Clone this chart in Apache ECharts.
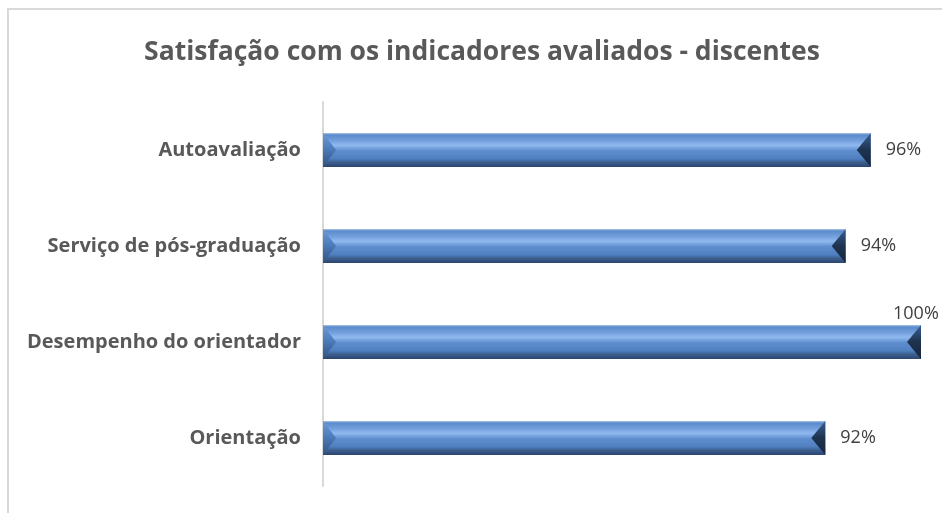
<!DOCTYPE html>
<html lang="pt">

<head>
    <meta charset="UTF-8" />
    <title>Satisfação - discentes</title>
    <script src="https://cdn.jsdelivr.net/npm/echarts@6.0.0/dist/echarts.min.js"></script>
    <style>
        html, body { margin: 0; padding: 0; background: #fff; }
        #main { width: 942px; height: 513px; }
    </style>
</head>

<body>
    <div id="main"></div>

    <script type="text/javascript">
        // data, bottom to top (as drawn on the category axis)
        const categories = ["Orientação", "Desempenho do orientador", "Serviço de pós-graduação", "Autoavaliação"];
        const satisfacao = [92, 100, 93.7, 95.8];
        const axisMin = 50;
        const axisMax = 100;

        const fontFamily = '"Open Sans", "Noto Sans", sans-serif';

        // 3D look of the bar body: vertical gradient
        const barGradient = new echarts.graphic.LinearGradient(0, 0, 0, 1, [
            { offset: 0, color: "#a9c4e6" },
            { offset: 0.06, color: "#5b8aca" },
            { offset: 0.26, color: "#7aa6e2" },
            { offset: 0.36, color: "#8fb9ef" },
            { offset: 0.52, color: "#5e8ecf" },
            { offset: 0.76, color: "#4f7fbe" },
            { offset: 0.86, color: "#3c5e8f" },
            { offset: 1, color: "#2c4670" }
        ]);

        // bevel at both ends of each bar
        function renderBevel(params, api) {
            const value = api.value(1);
            const start = api.coord([axisMin, api.value(0)]);
            const end = api.coord([value, api.value(0)]);
            const h = 34;
            const top = start[1] - h / 2;
            const bottom = start[1] + h / 2;
            const w = 13;
            return {
                type: "group",
                children: [
                    {
                        type: "polygon",
                        shape: { points: [[start[0], top], [start[0] + w, start[1]], [start[0], bottom]] },
                        style: {
                            fill: new echarts.graphic.LinearGradient(0, 0, 0, 1, [
                                { offset: 0, color: "#6f9bd6" },
                                { offset: 0.5, color: "#4a79b8" },
                                { offset: 1, color: "#33527f" }
                            ])
                        }
                    },
                    {
                        type: "polygon",
                        shape: { points: [[end[0], top], [end[0] - w - 1, start[1]], [end[0], bottom]] },
                        style: {
                            fill: new echarts.graphic.LinearGradient(0, 0, 0, 1, [
                                { offset: 0, color: "#3a5f92" },
                                { offset: 0.5, color: "#1e3350" },
                                { offset: 1, color: "#17263d" }
                            ])
                        }
                    }
                ]
            };
        }

        let myChart = echarts.init(document.getElementById("main"));

        let options = {
            animation: false,
            backgroundColor: "#ffffff",
            graphic: [{
                type: "rect",
                shape: { x: 8, y: 9, width: 960, height: 540 },
                style: { fill: "none", stroke: "#d9d9d9", lineWidth: 2 },
                silent: true
            }],
            title: {
                text: "Satisfação com os indicadores avaliados - discentes",
                left: 477,
                top: 34,
                textAlign: "center",
                textStyle: { fontFamily: fontFamily, fontSize: 26.5, fontWeight: "bold", color: "#595959" }
            },
            grid: { left: 323, right: 21, top: 102, bottom: 27, containLabel: false },
            xAxis: {
                type: "value",
                min: axisMin,
                max: axisMax,
                show: false
            },
            yAxis: {
                type: "category",
                data: categories,
                axisLine: { show: true, lineStyle: { color: "#d9d9d9", width: 2 } },
                axisTick: { show: false },
                axisLabel: {
                    margin: 22,
                    fontFamily: fontFamily,
                    fontSize: 20,
                    fontWeight: "bold",
                    color: "#595959"
                }
            },
            series: [
                {
                    name: "Satisfação",
                    type: "bar",
                    barWidth: 34,
                    data: satisfacao.map((v) => v === axisMax
                        ? { value: v, label: { position: "right", offset: [-43, -28] } }
                        : v),
                    itemStyle: { color: barGradient },
                    label: {
                        show: true,
                        position: "right",
                        distance: 15,
                        fontFamily: fontFamily,
                        fontSize: 18,
                        color: "#404040",
                        formatter: (p) => Math.round(p.value) + "%"
                    },
                    z: 2
                },
                {
                    type: "custom",
                    renderItem: renderBevel,
                    data: satisfacao.map((v, i) => [i, v]),
                    encode: { x: 1, y: 0 },
                    silent: true,
                    z: 3
                }
            ]
        };

        myChart.setOption(options);
    </script>
</body>

</html>
